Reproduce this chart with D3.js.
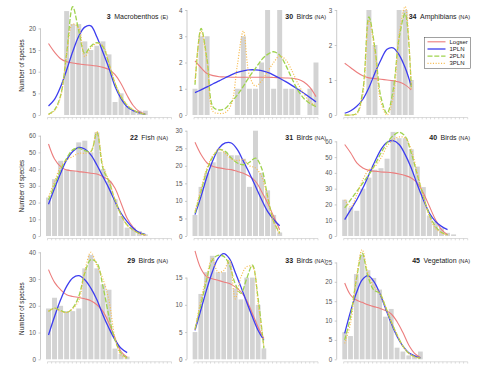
<!DOCTYPE html>
<html>
<head>
<meta charset="utf-8">
<script src="https://cdn.jsdelivr.net/npm/d3@7"></script>
<style>
  body { margin: 0; background: #fff; }
  text { font-family: "Liberation Sans", Arial, sans-serif; }
</style>
</head>
<body>
<div id="chart"></div>
<script>
// Panels, read left to right, top to bottom
var panelIds = ["3", "30", "34", "22", "31", "40", "29", "33", "45"];
var panelNames = ["Macrobenthos", "Birds", "Amphibians", "Fish", "Birds", "Birds", "Birds", "Birds", "Vegetation"];
var panelRegions = ["(E)", "(NA)", "(NA)", "(NA)", "(NA)", "(NA)", "(NA)", "(NA)", "(NA)"];
var yTicks = [
  [0, 5, 10, 15, 20], [0, 1, 2, 3, 4], [0, 1, 2, 3],
  [0, 10, 20, 30, 40, 50, 60], [0, 5, 10, 15, 20, 25, 30], [0, 10, 20, 30, 40, 50, 60],
  [0, 10, 20, 30, 40], [0, 5, 10, 15], [0, 5, 10, 15, 20, 25]
];
var yMax = [24.25, 4, 3, 63.4, 30.2, 67.2, 40.1, 19.7, 27.7];
// number of abundance classes that fit along each x axis
var binSpan = [20.5, 20.5, 20.5, 20.5, 20.5, 20.5, 20.5, 21.6, 21.3];

// observed number of species per abundance class
var counts = [
  [0, 0, 0, 24, 21, 21, 17, 15, 16, 17, 14, 3, 5, 2, 1, 1, 1],
  [1, 3, 3, 0, 0, 0, 0, 1, 3, 1, 1, 2, 4, 1, 4, 1, 1, 1, 0, 1, 2],
  [0, 0, 0, 0, 3, 2, 0, 0, 1, 3, 3, 1],
  [23, 34, 45, 40, 39, 56, 57, 50, 62, 40, 33, 22, 12, 5, 5, 3, 1],
  [6, 14, 18, 21, 24, 24, 23, 23, 22, 14, 30, 18, 13, 6, 1],
  [23, 18, 16, 30, 37, 42, 43, 49, 66, 62, 62, 55, 44, 31, 13, 9, 5, 2, 1],
  [19, 23, 20, 18, 18, 19, 34, 39, 34, 28, 26, 4, 2, 1],
  [5, 12, 16, 19, 16, 16, 18, 13, 11, 15, 15, 10, 2],
  [7, 6, 22, 27, 23, 21, 18, 11, 13, 3, 2, 1, 1, 2]
];

// fitted curves
var logser = [
  [16.5, 14.5, 13.0, 12.3, 12.0, 11.8, 11.6, 11.5, 11.3, 11.0, 10.5, 9.3, 7.2, 4.5, 2.2, 0.8, 0.2],
  [2.06, 1.8, 1.58, 1.5, 1.46, 1.45, 1.44, 1.44, 1.44, 1.44, 1.44, 1.44, 1.44, 1.43, 1.42, 1.41, 1.4, 1.36, 1.26, 1.05, 0.7],
  [1.48, 1.35, 1.22, 1.12, 1.06, 1.04, 1.02, 1.0, 0.98, 0.94, 0.86, 0.72],
  [55, 46, 41.5, 39.5, 39, 38.5, 38.1, 37.5, 37.1, 35.5, 33.5, 28.5, 19.6, 10.6, 5.2, 1.6, 0.4],
  [26.7, 23.2, 20.8, 19.8, 19.4, 19.1, 18.9, 18.4, 17.9, 17, 15.6, 12.7, 9.4, 5.6, 1.8],
  [58, 52.6, 46.3, 43.1, 41.6, 41, 40.6, 40.4, 40, 39.3, 38.3, 36.8, 33.6, 27.3, 18.8, 10.4, 4, 0.8],
  [33.5, 28.75, 26, 24.1, 23.5, 23.1, 22.6, 21.9, 20.4, 17.9, 13.5, 7.9, 2.9, 0.75],
  [19.9, 16.7, 15.2, 14.8, 14.5, 14.2, 13.9, 13.3, 12.4, 10.8, 8.4, 5.9, 3.8],
  [19.7, 16.6, 15.3, 14.7, 14.1, 13.6, 13.2, 12.6, 11.7, 9.7, 6.9, 3.7, 1.55, 0.5]
];
var pln1 = [
  [2.1, 3.6, 6.5, 10.4, 14.6, 18.2, 20.3, 20.6, 18.0, 14.5, 10.8, 6.6, 3.8, 1.9, 1.0, 0.5, 0.15],
  [0.85, 0.96, 1.07, 1.19, 1.3, 1.42, 1.53, 1.62, 1.68, 1.72, 1.72, 1.69, 1.62, 1.52, 1.4, 1.27, 1.13, 0.98, 0.83, 0.67, 0.5],
  [0.05, 0.12, 0.25, 0.45, 0.78, 1.2, 1.58, 1.88, 1.92, 1.72, 1.35, 0.83],
  [19, 28.5, 37.5, 45.5, 50.5, 53, 52, 48.5, 42.5, 35.5, 28.5, 20.6, 13.6, 8.6, 4.6, 2, 1],
  [6.1, 11.3, 17, 21.7, 25.1, 26.5, 26.5, 24.6, 21.3, 17.9, 14.2, 10.4, 7, 4.7, 2.9],
  [10.4, 16.7, 23, 30.4, 38.9, 47.4, 54.8, 59.4, 60.5, 58, 51.6, 43.1, 32.6, 23, 14.6, 9.3, 6.1, 4],
  [9.1, 16, 22.25, 27.25, 30.4, 31.25, 29.75, 26.6, 22.25, 16.6, 11.6, 7.25, 4.1, 2.5],
  [5.3, 9, 12.7, 16, 18.5, 19.4, 18.5, 16, 13.3, 10.5, 7.8, 5.3, 3.5],
  [6.7, 12.3, 17.1, 20.5, 21.6, 20.1, 17.1, 13.2, 9.3, 5.9, 3.4, 1.7, 0.9, 0.4]
];
var pln2 = [
  [0.15, 1.2, 4.5, 14.2, 25, 19.5, 14.2, 15.9, 16.7, 15.8, 11.8, 7.3, 4.2, 2.2, 1.15, 0.5, 0.15],
  [1.15, 3.3, 2.1, 0.3, 0.19, 0.25, 0.5, 0.76, 1.1, 1.46, 1.78, 2.1, 2.31, 2.41, 2.28, 1.9, 1.4, 0.95, 0.63, 0.44, 0.32],
  [0, 0, 0.05, 0.7, 2.8, 1.9, 0.5, 0.05, 0.7, 2.2, 2.9, 0.8],
  [21.5, 30.5, 39.5, 46.5, 51.5, 52.5, 51, 50.5, 62, 40.5, 32.5, 21.5, 12.6, 6.6, 3.6, 1.6, 0.8],
  [6.5, 12.7, 18.9, 22.7, 24.6, 24.1, 22.2, 20.8, 20.3, 21, 22.2, 19.4, 11.3, 4.2, 0.9],
  [17.8, 23, 28.3, 33.6, 38.9, 45.2, 52.6, 59, 63.6, 65.8, 63.2, 52.6, 38.9, 25.2, 13.5, 6.1, 2.3, 0.8],
  [17.9, 19.1, 18.25, 17.5, 19.1, 23.5, 32.25, 37.25, 36, 27.25, 16, 7.25, 2.25, 0.4],
  [5.6, 9.9, 14.5, 18.2, 19.1, 18.9, 17.3, 13.9, 12.1, 14.8, 17.3, 11.1, 2],
  [5, 11, 20.5, 27.4, 21.4, 17.9, 17.1, 13.6, 9.7, 6.3, 3.4, 1.55, 0.7, 0.3]
];
var pln3 = [
  [0.1, 1.0, 4.2, 14, 21, 20, 13.5, 15.5, 16.5, 16, 12, 7.5, 4.3, 2.4, 1.2, 0.5, 0.15],
  [1.27, 3.2, 2.0, 0.13, 0.06, 0.09, 0.4, 1.9, 3.2, 1.5, 1.1, 1.3, 1.65, 2.0, 2.25, 2.1, 1.7, 1.2, 0.8, 0.5, 0.35],
  [0, 0, 0.03, 0.6, 2.7, 1.8, 0.35, 0, 0.5, 2.3, 3.1, 0.75],
  [23.5, 32.5, 41.5, 45.5, 47.5, 49.5, 49.5, 50.5, 62.5, 42, 33, 22, 12.5, 6.5, 3.5, 1.6, 0.8],
  [7, 13.5, 19.5, 23, 24.8, 23.5, 22, 21.5, 21.8, 20, 19.4, 17, 11, 4, 0.5],
  [23, 18.4, 26.2, 35.7, 42, 44.2, 49.5, 56.9, 61.1, 62.8, 62.2, 54.8, 40, 25.2, 12.5, 5, 1.9, 0.6],
  [18, 19, 18, 17.5, 19, 22, 33, 40, 35, 30, 22, 8, 1.5, 0.3],
  [5.4, 10.8, 15.1, 18.5, 16, 16.3, 18.2, 11.1, 15.1, 17, 17, 10.2, 2.3],
  [4.1, 9.3, 21, 28.3, 22.2, 18.8, 17.1, 13.6, 9.7, 6.3, 3.4, 1.55, 0.7, 0.3]
];
var seriesNames = ["Logser", "1PLN", "2PLN", "3PLN"];

// Layout
var width = 490, height = 375;
var colX = [40.5, 187, 336.7];
var colRight = [168, 326, 470];
var rowTop = [10, 130, 252];
var rowBottom = [115, 236, 359.3];
var titleY = [18.5, 139.5, 262.5];

var colors = ["#ec7d7d", "#3d3def", "#9fd34e", "#f7bd55"];
var dashes = [null, null, "5,1.8", "1.1,1.6"];
var widths = [1.1, 1.3, 1.3, 1.2];
var curves = [logser, pln1, pln2, pln3];

var svg = d3.select("#chart")
  .append("svg")
  .attr("width", width)
  .attr("height", height);

panelIds.forEach(function(id, p) {
  var col = p % 3, row = Math.floor(p / 3);
  var ax = colX[col];

  var x = d3.scaleLinear()
    .domain([0, binSpan[p]])
    .range([ax + 8, ax + 132]);
  var y = d3.scaleLinear()
    .domain([0, yMax[p]])
    .range([rowBottom[row], rowTop[row]]);
  var step = x(1) - x(0);

  var g = svg.append("g");

  // bars
  g.selectAll("rect")
    .data(counts[p])
    .enter().append("rect")
    .attr("x", function(d, i) { return x(i) - step * 0.41; })
    .attr("width", step * 0.82)
    .attr("y", function(d) { return y(d); })
    .attr("height", function(d) { return y(0) - y(d); })
    .attr("fill", "#d3d3d3");

  // y axis (line only across the tick range)
  var ticks = yTicks[p];
  g.append("line")
    .attr("x1", ax).attr("x2", ax)
    .attr("y1", y(0)).attr("y2", y(ticks[ticks.length - 1]))
    .attr("stroke", "#b5b5b5").attr("stroke-width", 0.7);
  var yAxis = g.append("g")
    .attr("transform", "translate(" + ax + ",0)")
    .call(d3.axisLeft(y).tickValues(ticks).tickFormat(d3.format("d")).tickSize(2).tickPadding(2.5));
  yAxis.select(".domain").remove();
  yAxis.selectAll(".tick line").attr("stroke", "#b5b5b5").attr("stroke-width", 0.7);
  yAxis.selectAll(".tick text")
    .attr("fill", "#555")
    .style("font-size", "6.3px")
    .style("font-family", "Liberation Sans, Arial, sans-serif");

  // x axis: light baseline with small ticks
  var xb = rowBottom[row] + 2.5;
  var xt = d3.scaleLinear().domain([0, 30]).range([ax + 7, ax + 131]);
  g.append("line")
    .attr("x1", xt(0)).attr("x2", xt(30))
    .attr("y1", xb).attr("y2", xb)
    .attr("stroke", "#c4c4c4").attr("stroke-width", 0.6);
  g.selectAll(".xtick")
    .data(d3.range(31))
    .enter().append("line")
    .attr("class", "xtick")
    .attr("x1", function(d) { return xt(d); })
    .attr("x2", function(d) { return xt(d); })
    .attr("y1", xb).attr("y2", xb + 1.8)
    .attr("stroke", "#c4c4c4").attr("stroke-width", 0.6);

  // curves
  curves.forEach(function(series, s) {
    var line = d3.line()
      .x(function(d, i) { return x(i); })
      .y(function(d) { return y(d); })
      .curve(d3.curveCatmullRom.alpha(0.5));
    g.append("path")
      .datum(series[p])
      .attr("d", line)
      .attr("fill", "none")
      .attr("stroke", colors[s])
      .attr("stroke-width", widths[s])
      .attr("stroke-dasharray", dashes[s]);
  });

  // title
  var title = g.append("text")
    .attr("x", colRight[col])
    .attr("y", titleY[row])
    .attr("text-anchor", "end")
    .attr("fill", "#222")
    .style("font-size", "7px");
  title.append("tspan").attr("font-weight", "bold").text(id);
  title.append("tspan").text("\u2002" + panelNames[p] + " ");
  title.append("tspan").style("font-size", "5.6px").text(panelRegions[p]);

  // y label on the left column
  if (col === 0) {
    g.append("text")
      .attr("transform", "translate(24," + ((rowTop[row] + rowBottom[row]) / 2 + 3) + ") rotate(-90)")
      .attr("text-anchor", "middle")
      .attr("fill", "#222")
      .style("font-size", "6.3px")
      .text("Number of species");
  }

  // legend in the top right panel
  if (p === 2) {
    var lg = g.append("g").attr("transform", "translate(424.5,37.5)");
    lg.append("rect")
      .attr("width", 46).attr("height", 31)
      .attr("fill", "#fff")
      .attr("stroke", "#444").attr("stroke-width", 0.5);
    seriesNames.forEach(function(name, s) {
      var ly = 4.3 + s * 7.2;
      lg.append("line")
        .attr("x1", 3).attr("x2", 21)
        .attr("y1", ly).attr("y2", ly)
        .attr("stroke", colors[s])
        .attr("stroke-width", widths[s])
        .attr("stroke-dasharray", dashes[s]);
      lg.append("text")
        .attr("x", 25).attr("y", ly + 2)
        .attr("fill", "#222")
        .style("font-size", "6px")
        .text(name);
    });
  }
});
</script>
</body>
</html>
